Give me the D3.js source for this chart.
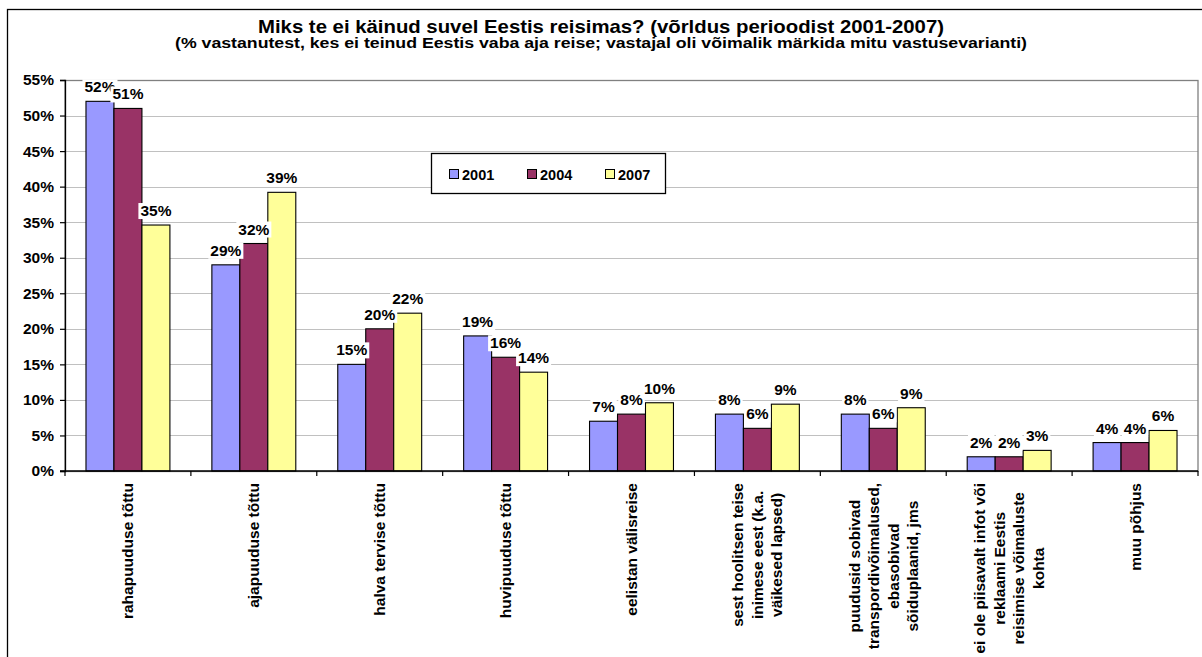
<!DOCTYPE html>
<html>
<head>
<meta charset="utf-8">
<script src="https://cdn.jsdelivr.net/npm/d3@7/dist/d3.min.js"></script>
<style>
  html, body { margin: 0; padding: 0; background: #ffffff; }
  svg { display: block; }
  text { font-family: "Liberation Sans", Arial, sans-serif; font-weight: bold; fill: #000; }
</style>
</head>
<body>
<svg id="chart" width="1202" height="657"></svg>
<script>
// ---- data ----
const titleText = "Miks te ei käinud suvel Eestis reisimas? (võrldus perioodist 2001-2007)";
const subtitleText = "(% vastanutest, kes ei teinud Eestis vaba aja reise; vastajal oli võimalik märkida mitu vastusevarianti)";
const categories = [
  ["rahapuuduse tõttu"],
  ["ajapuuduse tõttu"],
  ["halva tervise tõttu"],
  ["huvipuuduse tõttu"],
  ["eelistan välisreise"],
  ["sest hoolitsen teise", "inimese eest (k.a.", "väikesed lapsed)"],
  ["puudusid sobivad", "transpordivõimalused,", "ebasobivad", "sõiduplaanid, jms"],
  ["ei ole piisavalt infot või", "reklaami Eestis", "reisimise võimaluste", "kohta"],
  ["muu põhjus"]
];
const seriesNames = ["2001", "2004", "2007"];
const values2001 = [52, 29, 15, 19, 7, 8, 8, 2, 4];
const values2004 = [51, 32, 20, 16, 8, 6, 6, 2, 4];
const values2007 = [34.6, 39.2, 22.2, 13.9, 9.6, 9.4, 8.9, 2.9, 5.7];
const seriesColors = ["#9999FF", "#993366", "#FFFF99"];
const yTicks = [0, 5, 10, 15, 20, 25, 30, 35, 40, 45, 50, 55];

// ---- layout ----
const svg = d3.select("#chart");
const plot = { left: 65, right: 1198, top: 80, bottom: 471 };
const seriesValues = [values2001, values2004, values2007];
const catKeys = categories.map((c, i) => i);

// outer frame
svg.append("rect")
  .attr("x", 7.5).attr("y", 9.5).attr("width", 1210).attr("height", 670)
  .attr("fill", "none").attr("stroke", "#000").attr("stroke-width", 1.3);

// title
const t1 = svg.append("text").attr("x", 601).attr("y", 33).attr("text-anchor", "middle")
  .style("font-size", "19px").text(titleText);
const t2 = svg.append("text").attr("x", 601).attr("y", 48).attr("text-anchor", "middle")
  .style("font-size", "14px").text(subtitleText);
t1.attr("textLength", 686).attr("lengthAdjust", "spacingAndGlyphs");
t2.attr("textLength", 852).attr("lengthAdjust", "spacingAndGlyphs");

const x = d3.scaleBand().domain(catKeys).range([plot.left, plot.right]).paddingInner(0).paddingOuter(0);
const xs = d3.scaleBand().domain(seriesNames).range([0, x.bandwidth()]).paddingInner(0).paddingOuter(0.75);
const y = d3.scaleLinear().domain([0, 55]).range([plot.bottom, plot.top]);

// gridlines
svg.append("g").selectAll("line").data(yTicks.filter(d => d > 0 && d < 55)).join("line")
  .attr("x1", plot.left).attr("x2", plot.right)
  .attr("y1", d => Math.round(y(d)) + 0.5).attr("y2", d => Math.round(y(d)) + 0.5)
  .attr("stroke", "#C0C0C0").attr("stroke-width", 1);

// plot area border
svg.append("rect")
  .attr("x", plot.left).attr("y", plot.top + 0.5)
  .attr("width", plot.right - plot.left).attr("height", plot.bottom - plot.top)
  .attr("fill", "none").attr("stroke", "#808080").attr("stroke-width", 1.3);

// bars
const bars = svg.append("g");
seriesValues.forEach((vals, si) => {
  bars.selectAll(".s" + si).data(vals).join("rect")
    .attr("class", "s" + si)
    .attr("x", (d, i) => x(i) + xs(seriesNames[si]))
    .attr("y", d => y(d))
    .attr("width", xs.bandwidth())
    .attr("height", d => y(0) - y(d))
    .attr("fill", seriesColors[si])
    .attr("stroke", "#000").attr("stroke-width", 1.1);
});

// y axis
const yAxis = d3.axisLeft(y).tickValues(yTicks).tickFormat(d => d + "%").tickSize(5).tickPadding(6);
const ga = svg.append("g").attr("transform", `translate(${plot.left},0)`).call(yAxis);
ga.select(".domain").attr("stroke", "#000").attr("stroke-width", 1.3);
ga.selectAll(".tick line").attr("stroke", "#000").attr("stroke-width", 1.2);
ga.selectAll(".tick text").style("font-size", "15.5px").style("font-family", "Liberation Sans, Arial, sans-serif").style("font-weight", "bold").attr("fill", "#000");

// x axis (line + category boundary ticks)
const xb = svg.append("g");
xb.append("line").attr("x1", plot.left - 5).attr("x2", plot.right).attr("y1", plot.bottom).attr("y2", plot.bottom)
  .attr("stroke", "#000").attr("stroke-width", 1.5);
xb.selectAll(".xt").data(catKeys.concat([catKeys.length])).join("line")
  .attr("class", "xt")
  .attr("x1", d => plot.left + d * x.step()).attr("x2", d => plot.left + d * x.step())
  .attr("y1", plot.bottom).attr("y2", plot.bottom + 5)
  .attr("stroke", "#000").attr("stroke-width", 1.2);

// category labels (rotated)
const lh = 19.5;
const catG = svg.append("g").selectAll("g").data(categories).join("g")
  .attr("transform", (d, i) => `translate(${x(i) + x.bandwidth() / 2},483) rotate(-90)`);
catG.each(function (lines) {
  const g = d3.select(this);
  const texts = g.selectAll("text").data(lines).join("text")
    .style("font-size", "15.5px")
    .attr("text-anchor", "middle")
    .attr("dominant-baseline", "central")
    .attr("y", (d, j) => (j - (lines.length - 1) / 2) * lh)
    .text(d => d);
  let maxLen = 0;
  texts.each(function () { maxLen = Math.max(maxLen, this.getComputedTextLength()); });
  texts.attr("x", -maxLen / 2);
});

// data labels with white background
const lab = svg.append("g");
seriesValues.forEach((vals, si) => {
  vals.forEach((v, i) => {
    const cx = x(i) + xs(seriesNames[si]) + xs.bandwidth() / 2;
    const by = y(v) - 9;
    const g = lab.append("g");
    const tx = g.append("text").attr("x", cx).attr("y", by).attr("text-anchor", "middle")
      .style("font-size", "15.5px").text(Math.round(v) + "%");
    const w = tx.node().getComputedTextLength();
    g.insert("rect", "text").attr("x", cx - w / 2 - 2).attr("y", by - 13).attr("width", w + 4).attr("height", 16)
      .attr("fill", "#fff");
  });
});

// legend
const leg = svg.append("g");
leg.append("rect").attr("x", 431.5).attr("y", 153.5).attr("width", 234).attr("height", 40)
  .attr("fill", "#fff").attr("stroke", "#000").attr("stroke-width", 1.3);
const legX = [449, 527, 605];
seriesNames.forEach((s, si) => {
  leg.append("rect").attr("x", legX[si] + 0.5).attr("y", 169.5).attr("width", 9).attr("height", 9)
    .attr("fill", seriesColors[si]).attr("stroke", "#000").attr("stroke-width", 1);
  leg.append("text").attr("x", legX[si] + 13).attr("y", 179.5).style("font-size", "14.5px").text(s);
});
</script>
</body>
</html>
